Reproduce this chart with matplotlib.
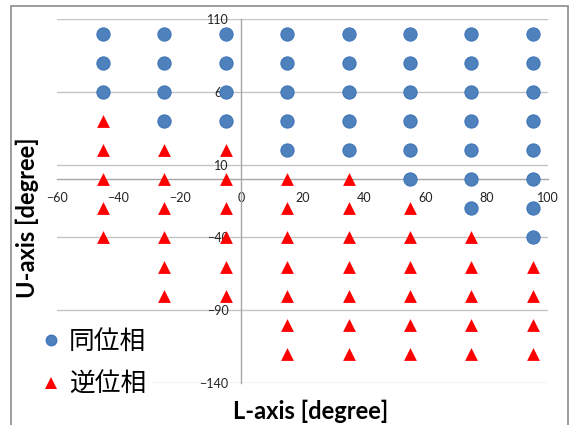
import matplotlib
matplotlib.use("Agg")
import matplotlib.pyplot as plt
from matplotlib.lines import Line2D
from matplotlib.patches import Rectangle

# L-axis positions of the measured columns
l_cols = [-45, -25, -5, 15, 35, 55, 75, 95]

# U-axis values per column: in-phase (同位相) and anti-phase (逆位相)
in_phase_u = [
    [100, 80, 60],
    [100, 80, 60, 40],
    [100, 80, 60, 40],
    [100, 80, 60, 40, 20],
    [100, 80, 60, 40, 20],
    [100, 80, 60, 40, 20, 0],
    [100, 80, 60, 40, 20, 0, -20],
    [100, 80, 60, 40, 20, 0, -20, -40],
]
anti_phase_u = [
    [40, 20, 0, -20, -40],
    [20, 0, -20, -40, -60, -80],
    [20, 0, -20, -40, -60, -80],
    [0, -20, -40, -60, -80, -100, -120],
    [0, -20, -40, -60, -80, -100, -120],
    [-20, -40, -60, -80, -100, -120],
    [-40, -60, -80, -100, -120],
    [-60, -80, -100, -120],
]

x_ticks = [-60, -40, -20, 0, 20, 40, 60, 80, 100]
y_ticks = [110, 60, 10, -40, -90, -140]

BLUE = "#4f81bd"
BLUE_EDGE = "#3f75b8"
RED = "#ff0000"
GRID = "#c4c4c4"

fig = plt.figure(figsize=(5.71, 4.25), dpi=100)
ax = fig.add_axes([57 / 571, 1 - 383 / 425, (548 - 57) / 571, (383 - 19) / 425])

in_x, in_y, anti_x, anti_y = [], [], [], []
for lx, ups, downs in zip(l_cols, in_phase_u, anti_phase_u):
    in_x += [lx] * len(ups)
    in_y += ups
    anti_x += [lx] * len(downs)
    anti_y += downs

ax.scatter(in_x, in_y, s=90, marker="o", color=BLUE, edgecolor=BLUE_EDGE,
           linewidth=0.8, zorder=3)
ax.scatter(anti_x, anti_y, s=85, marker="^", color=RED, linewidth=0, zorder=3)

ax.set_xlim(-60, 100)
ax.set_ylim(-140, 110)
ax.set_xticks(x_ticks)
ax.set_yticks(y_ticks)
ax.yaxis.grid(True, color=GRID, linewidth=1)
ax.set_axisbelow(True)

for side in ["top", "right"]:
    ax.spines[side].set_visible(False)
ax.spines["left"].set_position(("data", 0))
ax.spines["bottom"].set_position(("data", 0))
for side in ["left", "bottom"]:
    ax.spines[side].set_color("#a8a8a8")
    ax.spines[side].set_linewidth(1)
    ax.spines[side].set_zorder(1)

ax.tick_params(axis="both", length=0, labelsize=9, labelcolor="#222222")
ax.tick_params(axis="x", pad=9)
ax.tick_params(axis="y", pad=9)
for lab in ax.get_xticklabels() + ax.get_yticklabels():
    lab.set_fontfamily("Lato")
    lab.set_zorder(4)

fig.text(27 / 571, 1 - 218 / 425, "U-axis [degree]", rotation=90, ha="center",
         va="center", fontsize=17, fontweight="bold", family="Lato")
fig.text(311 / 571, 1 - 411 / 425, "L-axis [degree]", ha="center", va="center",
         fontsize=17, fontweight="bold", family="Lato")

handles = [
    Line2D([], [], marker="o", linestyle="none", markersize=7.5,
           markerfacecolor=BLUE, markeredgecolor=BLUE_EDGE),
    Line2D([], [], marker="^", linestyle="none", markersize=8,
           markerfacecolor=RED, markeredgewidth=0),
]
leg = fig.legend(handles, ["同位相", "逆位相"], loc="lower left",
                 bbox_to_anchor=(37 / 571, 1 - 403 / 425), frameon=True,
                 prop={"family": ["Noto Sans CJK JP", "DejaVu Sans"], "size": 18.5},
                 handlelength=0.7, handletextpad=0.35, labelspacing=0.66,
                 borderpad=0.2, borderaxespad=0)
leg.get_frame().set_edgecolor("none")
leg.get_frame().set_facecolor("white")
leg.get_frame().set_alpha(1)

# outer chart frame
fig.patches.append(Rectangle((11 / 571, -0.02), (568 - 11) / 571, 1 - 6 / 425 + 0.02,
                             transform=fig.transFigure, fill=False,
                             edgecolor="#8c8c8c", linewidth=1.2))

fig.savefig("out.png", dpi=100)
